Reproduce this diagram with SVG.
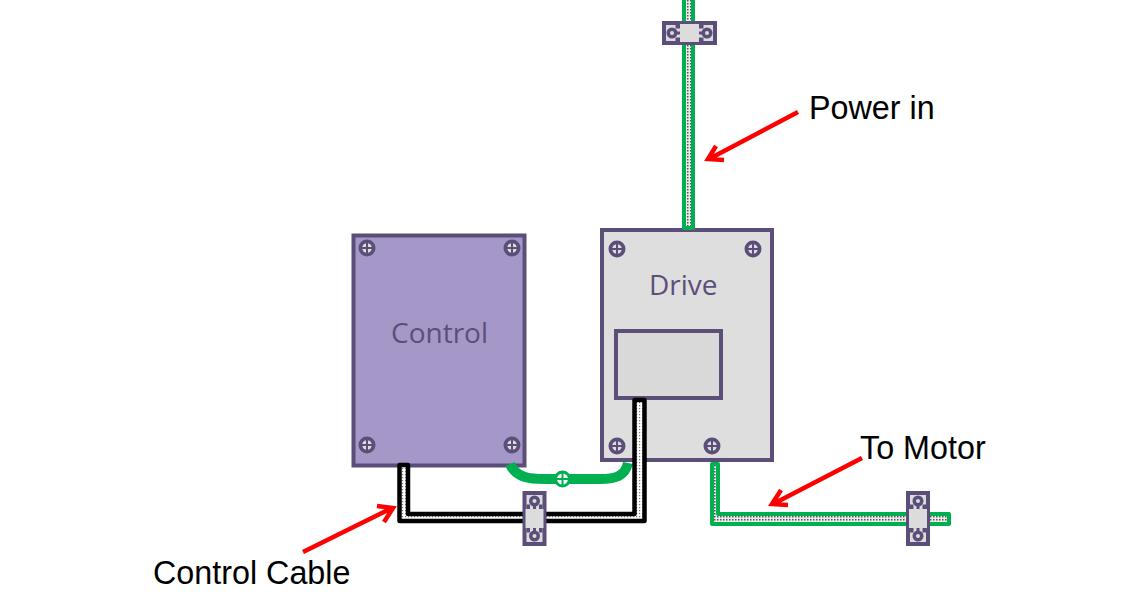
<svg xmlns="http://www.w3.org/2000/svg" width="1140" height="610" viewBox="0 0 1140 610">
<style>
.box{stroke:#5b4f7a;stroke-width:4}
.lbl{font-family:"Liberation Sans",Arial,sans-serif;font-size:32.300px;fill:#000}
.nm{font-family:"Open Sans","Noto Sans",sans-serif;font-size:28px;fill:#5b4f7a}
.arrow{fill:none;stroke:#ff0000;stroke-width:4.500;stroke-linejoin:miter}
.gc{fill:url(#dots);stroke:#00b050;stroke-width:4;stroke-linejoin:round}
.bc{fill:url(#dots2);stroke:#000;stroke-width:4.500;stroke-linejoin:round}
</style>
<defs>
<pattern id="dots" width="3" height="3" patternUnits="userSpaceOnUse"><rect width="3" height="3" fill="#ececec"/><rect width="1.500" height="1.500" fill="#555"/></pattern>
<pattern id="dots2" width="3" height="3" patternUnits="userSpaceOnUse"><rect width="3" height="3" fill="#fff"/><rect width="1.200" height="1.200" fill="#777"/></pattern>
<g id="screw"><circle r="8.500" fill="#5b4f7a"/><circle r="4.800" fill="#dcdcdc"/><path d="M-6,0H6M0,-6V6" stroke="#5b4f7a" stroke-width="2"/></g>
<g id="clampH"><rect x="-27.500" y="-12" width="55" height="24" fill="#5b4f7a"/><path d="M-23.500,-8H23.500V8H-23.500Z" fill="#dcdcdc"/><path d="M-14,-8H-9.500V-4.500H-14ZM9.500,-8H14V-4.500H9.500ZM-14,4.500H-9.500V8H-14ZM9.500,4.500H14V8H9.500Z" fill="#5b4f7a"/><rect x="-18" y="-1.500" width="36" height="3" fill="#5b4f7a"/><rect x="-9.500" y="-9" width="19" height="18" fill="#dcdcdc"/><circle cx="-17.500" r="5.500" fill="#5b4f7a"/><circle cx="17.500" r="5.500" fill="#5b4f7a"/><circle cx="-17.500" r="2" fill="#dcdcdc"/><circle cx="17.500" r="2" fill="#dcdcdc"/></g>
</defs>

<g id="control"><rect class="box" x="353.500" y="235.500" width="171" height="230" fill="#a597c8"/>
<use href="#screw" x="367" y="248"/><use href="#screw" x="512" y="248"/><use href="#screw" x="367" y="445"/><use href="#screw" x="512" y="445"/>
<text class="nm" x="391" y="343">Control</text></g>

<g id="drive"><rect class="box" x="602" y="230" width="170" height="230" fill="#dedede"/>
<use href="#screw" x="617" y="249"/><use href="#screw" x="753" y="249"/><use href="#screw" x="617" y="446"/><use href="#screw" x="712" y="446"/>
<text class="nm" x="649" y="295">Drive</text>
<rect class="box" x="616" y="331" width="105" height="67" fill="#d9d9d9"/></g>

<g id="connectors">
<path id="power-cable" class="gc" d="M684,-4H693V228H684Z"/>
<path id="link" d="M510,464C516,478 530,479 545,479H600C616,479 625,476 628,463" fill="none" stroke="#00b050" stroke-width="10"/>
<path id="control-cable" class="bc" d="M399.500,465H408V514H634.500V400H644.500V521H399.500Z"/>
<path id="motor-cable" class="gc" d="M712,464H718V514H949V524H712Z"/>
<path class="arrow" d="M798,112L709,159M716,146L708,159L724,160"/>
<path class="arrow" d="M862,458L773,504M781,490L772,504L788,505"/>
<path class="arrow" d="M303,552L392,508M377,506L393,508L384,522"/>
</g>

<g id="junction"><circle cx="562.500" cy="479" r="8.500" fill="#00b050"/><circle cx="562.500" cy="479" r="5.500" fill="#fff"/><path d="M556,479H569M562.500,473V485" stroke="#00b050" stroke-width="2"/></g>

<g id="clamp-top"><use href="#clampH" transform="translate(689.500 33)"/></g>
<g id="clamp-control"><use href="#clampH" transform="translate(534.500 518.500) rotate(90)"/></g>
<g id="clamp-motor"><use href="#clampH" transform="translate(918 518.500) rotate(90)"/></g>

<g id="label-power"><text class="lbl" x="809" y="119">Power in</text></g>
<g id="label-motor"><text class="lbl" x="860" y="459">To Motor</text></g>
<g id="label-control"><text class="lbl" x="153" y="584">Control Cable</text></g>
</svg>
